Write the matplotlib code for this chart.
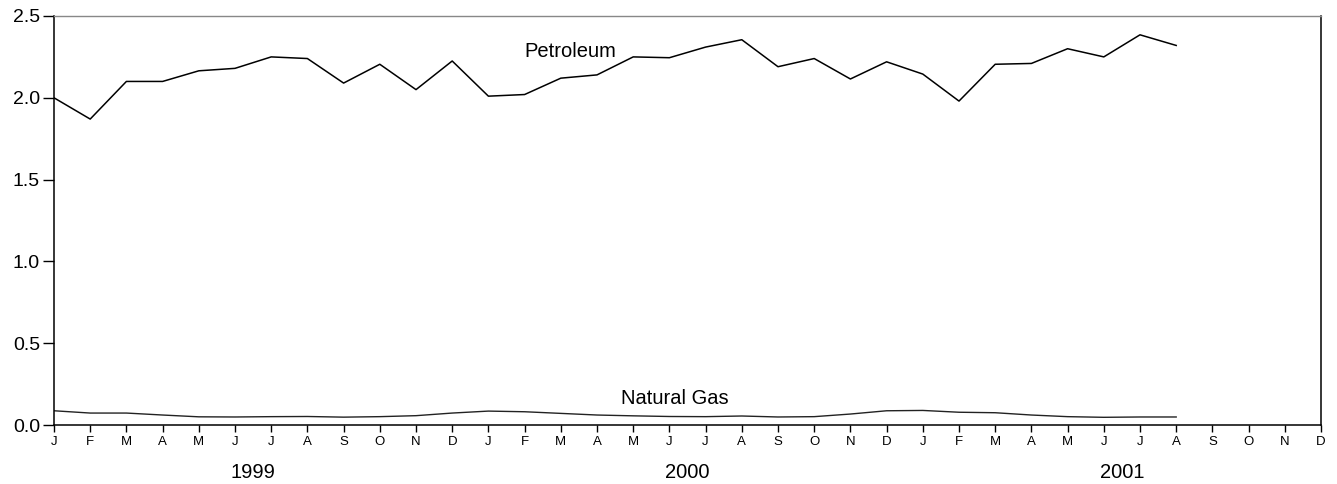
import matplotlib
matplotlib.use("Agg")
import matplotlib.pyplot as plt
import matplotlib.transforms as mtransforms

plt.rcParams['font.family'] = ['Liberation Sans', 'DejaVu Sans']

# Monthly series, Jan 1999 - Aug 2001
petroleum = [2.00, 1.87, 2.10, 2.10, 2.165, 2.18, 2.25, 2.24, 2.09, 2.205, 2.05, 2.225,
             2.01, 2.02, 2.12, 2.14, 2.25, 2.245, 2.31, 2.355, 2.19, 2.24, 2.115, 2.22,
             2.145, 1.98, 2.205, 2.21, 2.30, 2.25, 2.385, 2.32]
natural_gas = [0.087, 0.073, 0.073, 0.061, 0.050, 0.049, 0.051, 0.052, 0.048, 0.051, 0.057, 0.073,
               0.085, 0.081, 0.071, 0.061, 0.056, 0.052, 0.051, 0.055, 0.049, 0.051, 0.067, 0.087,
               0.089, 0.078, 0.075, 0.061, 0.051, 0.047, 0.049, 0.049]
month_labels = ['J', 'F', 'M', 'A', 'M', 'J', 'J', 'A', 'S', 'O', 'N', 'D'] * 3
years = ['1999', '2000', '2001']
y_ticks = [0.0, 0.5, 1.0, 1.5, 2.0, 2.5]

fig = plt.figure(figsize=(13.37, 4.84), dpi=100)
ax = fig.add_axes([54 / 1337, 59 / 484, (1321 - 54) / 1337, (425 - 16) / 484])

x_pet = list(range(len(petroleum)))
x_gas = list(range(len(natural_gas)))
ax.plot(x_pet, petroleum, color='black', lw=1.1)
ax.plot(x_gas, natural_gas, color='#222222', lw=1.0)

ax.set_xlim(0, len(month_labels) - 1)
ax.set_ylim(0, 2.5)
ax.set_xticks(range(len(month_labels)))
ax.set_xticklabels(month_labels, fontsize=9.5)
ax.set_yticks(y_ticks)
ax.set_yticklabels([f"{v:.1f}" for v in y_ticks], fontsize=14)
ax.tick_params(axis='x', direction='out', length=5, width=1, pad=3)
ax.tick_params(axis='y', direction='out', length=8, width=1, pad=2)

for side in ['left', 'bottom', 'right']:
    ax.spines[side].set_color('black')
    ax.spines[side].set_linewidth(1.1)
ax.spines['top'].set_color('#888888')
ax.spines['top'].set_linewidth(1.0)

trans = mtransforms.blended_transform_factory(ax.transData, ax.transAxes)
for k, yr in enumerate(years):
    ax.text(5.5 + 12 * k, -0.115, yr, transform=trans, ha='center', va='center', fontsize=14.5)

ax.text(14.25, 2.28, 'Petroleum', ha='center', va='center', fontsize=14.5)
ax.text(17.15, 0.16, 'Natural Gas', ha='center', va='center', fontsize=14.5)

fig.savefig('out.png', dpi=100)
